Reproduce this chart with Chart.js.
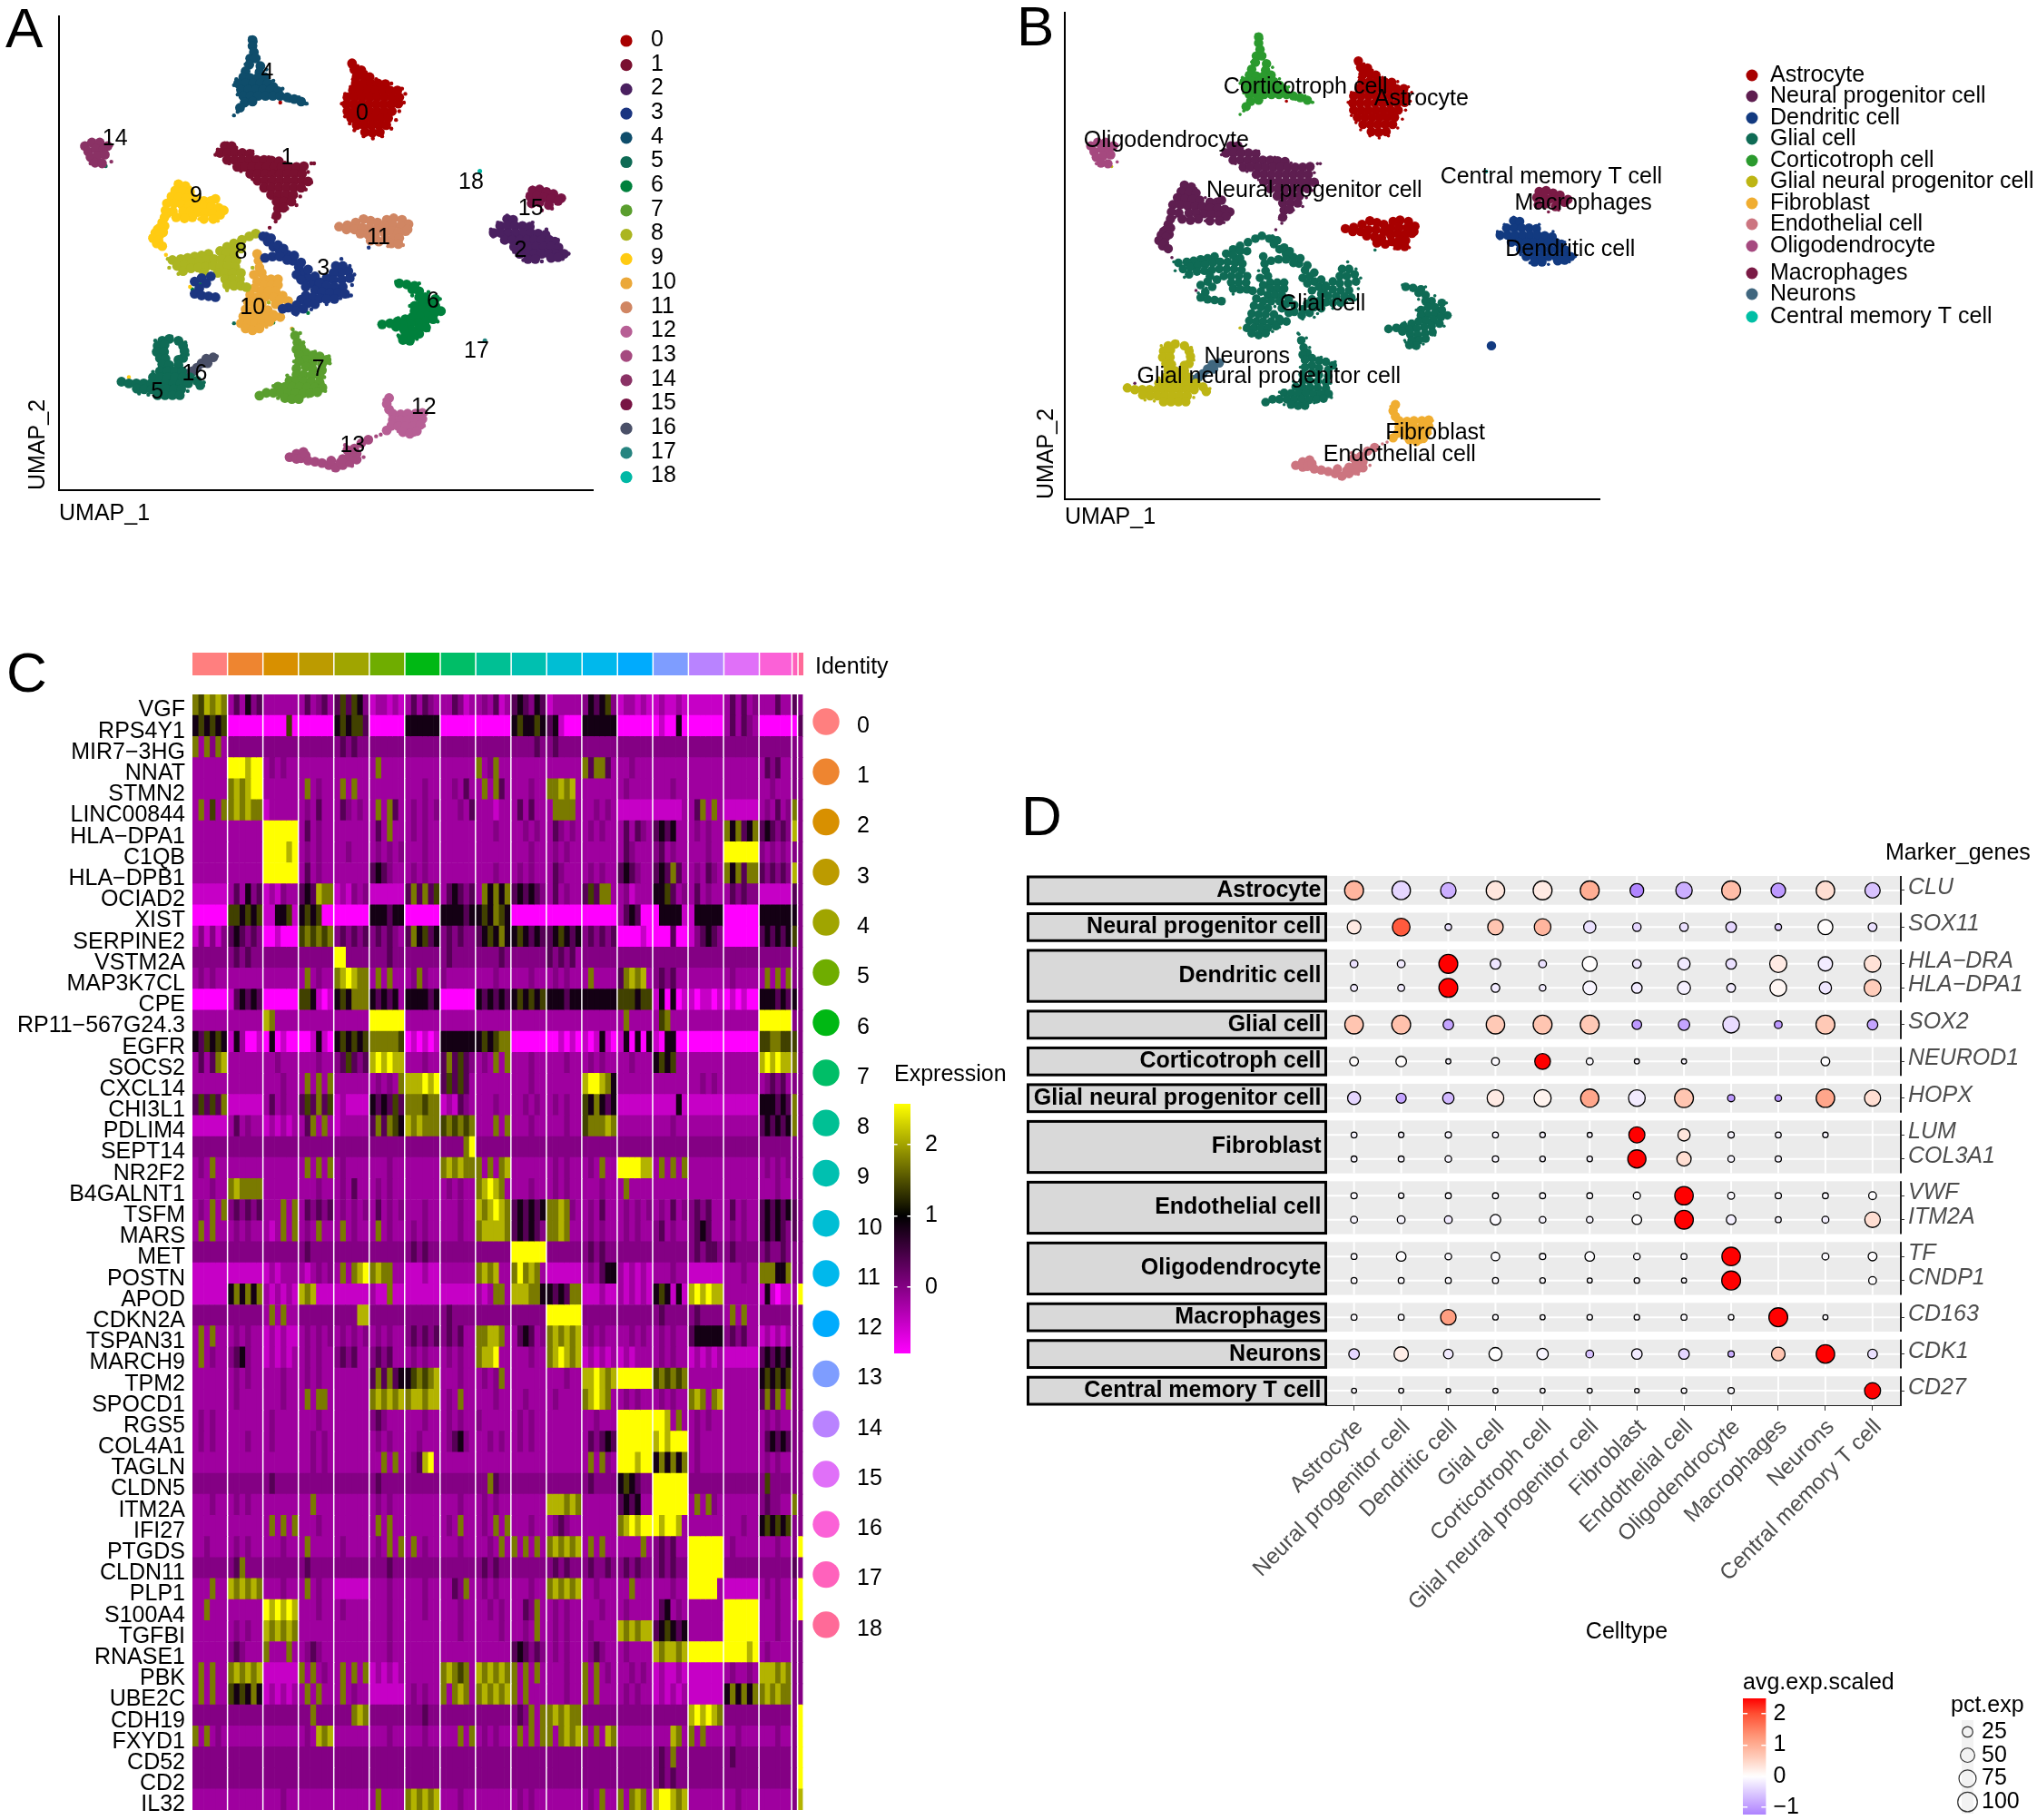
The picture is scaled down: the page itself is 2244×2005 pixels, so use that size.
<!DOCTYPE html>
<html>
<head>
<meta charset="utf-8">
<title>UMAP, heatmap and marker gene dot plot</title>
<script src="https://cdn.jsdelivr.net/npm/chart.js@4"></script>
<style>
body { margin: 0; background: #fff; width: 2244px; height: 2005px; position: relative; overflow: hidden; font-family: "Liberation Sans", Arial, sans-serif; }
canvas { position: absolute; }
.tag { position: absolute; font-size: 62px; line-height: 1; }
</style>
</head>
<body>
<div class="tag" style="left:6px;top:0">A</div>
<div class="tag" style="left:1120px;top:-2px">B</div>
<div class="tag" style="left:7px;top:710px">C</div>
<div class="tag" style="left:1125px;top:868px">D</div>
<canvas id="umapA" width="780" height="600" style="left:0;top:0"></canvas>
<canvas id="umapB" width="1144" height="600" style="left:1100px;top:0"></canvas>
<canvas id="heatmap" width="985" height="1317" style="left:0;top:700px"></canvas>
<canvas id="identity" width="673" height="25" style="left:212px;top:719px"></canvas>
<canvas id="exprBar" width="125" height="352" style="left:985px;top:1170px"></canvas>
<canvas id="dotplot" width="1124" height="930" style="left:1120px;top:920px"></canvas>
<canvas id="avgBar" width="190" height="182" style="left:1920px;top:1840px"></canvas>
<canvas id="pctKey" width="95" height="162" style="left:2149px;top:1860px"></canvas>
<script>
"use strict";

const clusterNames = ['0','1','2','3','4','5','6','7','8','9','10','11','12','13','14','15','16','17','18'];
const clusterColors = ['#A80000','#7A1030','#4A2060','#1B3580','#0F4D6B','#0F6B55','#00803C','#5A9E2E','#ABB521','#FFCB12','#EBA83A','#D08663','#B75F95','#A5497F','#8A3265','#781444','#4A5068','#268480','#00B8A5'];
const cellTypes = ['Astrocyte','Neural progenitor cell','Dendritic cell','Glial cell','Corticotroph cell','Glial neural progenitor cell','Fibroblast','Endothelial cell','Oligodendrocyte','Macrophages','Neurons','Central memory T cell'];
const cellTypeColors = ['#A80000','#5E1E50','#123A80','#0F6B55','#2B9A2E','#BDB514','#F0AD30','#CC7580','#A5497F','#7A1A45','#40677F','#00BFA5'];
// which cell type each cluster was annotated as
const clusterCellType = [0,1,2,3,4,5,3,3,3,1,3,0,6,7,8,9,10,2,11];

// UMAP points per cluster, x,y,x,y... (y read downwards, flipped in toPoints)
const cluster0 = [760,182, 765,200,780,202, 770,220,786,220,798,222, 768,240,784,240,800,240,816,240,832,242, 762,260,778,260,794,260,810,260,826,260,842,260,858,260, 750,280,766,280,782,280,798,280,814,280,830,280,846,280,862,280, 748,300,764,300,780,300,796,300,812,300,828,300,844,300,860,298, 750,320,766,320,782,320,798,320,814,320,830,320,846,320, 758,340,774,340,790,340,806,340,822,340,838,340, 770,360,786,360,802,360,818,360,834,360, 788,380,804,382,820,380];
const cluster1 = [485,420,500,420, 475,440,491,440,507,440,523,440,539,442, 490,460,506,460,522,460,538,460,554,460,570,460,586,462,602,464, 512,480,528,480,544,480,560,480,576,480,592,480,608,480,624,480,640,480,656,478, 540,500,556,500,572,500,588,500,604,500,620,500,636,500,652,500, 556,520,572,520,588,520,604,520,620,520,636,520,652,520,665,522, 570,540,586,540,602,540,618,540,634,540,650,540, 585,560,601,560,617,560,633,560, 597,580,613,580,629,580, 600,600,612,598, 597,620];
const cluster2 = [1095,630,1108,632, 1080,650,1096,650,1112,650,1128,650,1144,652, 1066,670,1082,670,1098,670,1114,670,1130,670,1146,670,1162,672,1178,675, 1090,690,1106,690,1122,690,1138,690,1154,690,1170,690,1186,690,1198,695, 1110,710,1126,710,1142,710,1158,710,1174,710,1190,710,1206,712, 1122,730,1138,730,1154,730,1170,730,1186,730,1202,730,1218,730, 1140,745,1156,745,1190,742,1205,740];
const cluster3 = [568,680,578,695,590,710,604,722,620,732,632,750,645,768,655,785,665,800,675,815,685,830, 585,685,600,705,612,715,635,735,650,755,665,775,680,795,690,812,610,722,640,790,650,805,660,825, 572,742,588,738,604,738,620,748, 725,765,740,765,752,780,735,785,720,785,705,800,720,805,738,805,755,800,690,815,705,822,722,825,740,825,680,835,695,840,712,842,730,842,745,845,660,850,675,855,690,858,705,860,722,860,650,862,665,872,680,875,640,878,655,888,638,895,622,885,610,888, 420,810,435,800,455,795,445,815,430,830,420,845,435,850,450,852,465,855];
const cluster4 = [545,115,545,132,548,150,540,168,552,168,538,186,562,190,530,205,560,208,525,222,540,224,556,224,572,222,514,240,530,240,546,240,562,240,578,240,590,250,520,258,536,258,552,258,568,258,584,258,600,262,525,276,541,276,557,276,573,276,589,276,605,276,620,280,635,285,650,292,528,295,545,292,518,310];
const cluster5 = [350,980,365,975,385,980,340,995,395,995,355,992,338,1012,398,1010,354,1012,345,1030,395,1030,357,1032,385,1035,350,1048,365,1050,385,1050, 345,1068,361,1068,377,1068,393,1068, 330,1085,346,1085,362,1085,378,1085,394,1085,410,1085,425,1095, 262,1098,278,1103,294,1103,310,1103,326,1103,342,1103,358,1103,374,1103,390,1103,406,1103,432,1108, 295,1118,311,1120,327,1120,343,1120,359,1120,375,1120,391,1120, 340,1137,356,1137,372,1137,388,1137];
const cluster6 = [862,815,878,818,895,822,905,838,890,832,918,855,905,855,925,872,910,872,895,880,940,860,940,880,925,890,910,892,895,895,952,895,938,900,922,908,906,910,890,912,875,918,858,925,842,930,825,933,935,918,918,925,902,928,886,932,870,935,855,940,920,942,904,945,888,950,872,948,905,960,890,965,875,965,885,980,870,978];
const cluster7 = [637,965,642,985,650,1000,640,1005,660,1015,645,1020,675,1022,690,1025,705,1035,660,1035,645,1040,675,1042,695,1048,660,1055,640,1060,675,1062,695,1065,640,1078,655,1078,672,1080,690,1082,625,1095,640,1097,656,1097,672,1098,690,1100,600,1112,615,1113,631,1113,647,1113,663,1115,680,1115,696,1115,575,1130,590,1130,606,1130,622,1130,638,1130,654,1132,670,1130,685,1128,560,1138,615,1145,630,1148,645,1148];
const cluster8 = [552,672,538,680,522,690,505,700,490,710,505,715,520,715,475,722,490,727,505,735,450,730,435,735,420,738,405,742,390,745,372,748,382,765,398,760,414,755,430,752,446,748,462,745,478,745,494,748,510,750,395,780,412,772,428,770,444,768,460,765,476,765,492,765,508,768,440,785,470,785,486,785,502,785,520,785,486,803,502,803,518,803,490,820,505,822,520,822,532,826];
const cluster9 = [385,530,400,535,378,548,394,550,410,552,370,565,386,568,402,570,418,572,360,585,376,585,392,588,408,590,424,590,440,578,455,578,465,572,440,595,456,595,472,598,483,605,357,605,373,608,395,608,411,608,427,610,443,612,459,614,475,618,415,625,355,625,380,625,398,628,440,630,460,630,350,640,340,660,355,650,345,655,352,668,335,670,345,675,330,685,342,692,338,700,350,708];
const cluster10 = [555,730,558,750,560,770,565,785,548,790,570,803,585,803,600,803,555,810,570,820,585,820,600,820,550,828,565,838,580,838,595,838,610,850,540,848,555,855,572,855,590,855,605,862,622,866,535,868,550,872,565,875,595,875,530,890,545,892,560,892,578,892,590,905,525,910,540,912,555,912,572,912,590,912,605,912,520,930,535,930,550,930,565,930,582,925,530,945,545,950,560,945];
const cluster11 = [732,652,750,648,768,640,785,630,800,635,815,640,835,632,850,628,868,632,882,645,748,660,765,660,782,655,798,655,815,660,830,650,848,648,865,650,778,672,795,675,810,678,830,670,845,665,860,668,875,665,880,660,800,692,818,695,832,688,848,685,862,685,845,700,860,702];
const cluster12 = [840,1145,835,1162,840,1178,848,1190,865,1192,880,1190,897,1190,912,1188,848,1208,864,1208,880,1208,896,1208,912,1205,845,1225,860,1226,876,1226,892,1226,908,1222,835,1238,870,1243,885,1248,900,1240];
const cluster13 = [625,1315,640,1305,655,1300,640,1320,650,1318,660,1310,665,1325,680,1328,695,1332,710,1338,725,1345,740,1338,755,1330,770,1322,715,1325,735,1330,740,1320,755,1312,770,1305,760,1300,750,1295,765,1290,780,1275,795,1265];
const cluster14 = [183,420,198,410,215,410,232,420,190,436,206,428,222,432,195,452,210,448,226,445,205,468,220,470];
const cluster15 = [1150,548,1165,545,1180,552,1195,558,1212,570,1145,565,1160,562,1175,568,1190,572,1205,578,1148,585,1165,582,1185,590];
const cluster16 = [460,1028,445,1032,435,1045,448,1045,425,1058,405,1075,395,1085,415,1068];
const cluster17 = [1047,980];
const cluster18 = [1036,492];
const clusters = [cluster0,cluster1,cluster2,cluster3,cluster4,cluster5,cluster6,cluster7,cluster8,cluster9,cluster10,cluster11,cluster12,cluster13,cluster14,cluster15,cluster16,cluster17,cluster18];
// thin scatter round the clusters: cluster, x, y
const strayPoints = [[4,505,332],[4,513,322],[4,660,298],[4,625,290],[0,605,295],[1,595,637],[1,590,625],[1,582,655],[3,578,675],[1,672,470],[9,352,715],[9,358,733],[3,400,528],[9,462,570],[3,737,745],[9,738,785],[3,758,850],[6,665,900],[5,580,932],[5,505,930],[10,630,945],[7,648,958],[9,278,1085],[5,438,1110],[7,650,1128],[6,862,970],[11,878,968],[6,862,305],[3,798,700],[3,796,712],[5,228,478],[14,240,465],[13,812,1255],[13,800,1260],[13,822,1250],[12,790,1268],[15,1170,605],[15,1192,600],[2,1060,665],[6,425,825],[6,432,818],[6,415,832],[9,410,825],[5,440,810],[1,600,552],[8,545,770],[8,560,790],[8,580,870],[8,600,880],[4,822,248],[4,828,330],[4,758,345],[12,842,1138],[9,836,1170],[10,540,440],[9,398,986],[5,350,715],[6,590,928]];
// outline scatter per cluster: cluster, then x,y,x,y...
const edgeScatter = [
[0,756,190,772,190,790,208,812,228,845,240,868,255,875,270,872,295,862,320,855,345,845,370,825,392,805,398,785,392,765,375,755,355,745,335,738,298,745,270,757,250,762,228],
[1,470,430,465,445,490,412,510,425,545,435,580,452,615,468,678,470,665,495,672,525,660,545,648,565,640,590,620,600,600,615,585,570,565,535,545,515,520,492,495,470],
[2,1060,660,1075,640,1095,620,1150,640,1180,660,1205,690,1228,730,1215,745,1170,752,1130,748,1110,725,1085,695,1065,680],
[3,560,675,575,672,755,765,765,790,760,820,752,852,735,858,705,875,672,890,640,905],
[4,540,108,552,120,558,165,575,200,590,232,610,255,645,280,662,298,505,245,510,228,530,185,513,272],
[5,258,1098,300,1132,320,1135,405,1125,440,1100,420,1075,330,1070,345,1055,335,980,370,968,400,985,405,1020],
[6,855,810,905,815,925,840,950,860,958,895,945,925,925,950,900,975,880,985,860,965,822,930,860,915,885,880,890,850],
[7,632,948,655,985,680,1012,710,1025,712,1045,700,1085,702,1125,665,1140,630,1153,600,1145,558,1140,590,1110,620,1080,635,1040],
[8,362,745,365,770,385,788,555,670,530,830,490,835,480,800],
[9,380,525,410,540,430,565,465,565,485,600,470,635,430,630,395,625,365,620,325,680],
[10,555,725,625,868,605,910,575,940,515,935],
[11,728,652,780,625,885,640,880,672,870,705,838,708],
[12,830,1150,920,1190,915,1225,895,1250,860,1240,832,1235],
[13,620,1315,655,1295,720,1352,760,1340,785,1315,745,1280,795,1262],
[14,178,425,200,405,240,418,225,475,195,470],
[15,1140,558,1150,540,1215,570,1190,588],
[16,468,1025,390,1090]
];
const clusterLabelPos = [[782,323],[620,452],[1124,716],[698,770],[577,205],[339,1125],[935,864],[687,1058],[520,722],[423,560],[545,882],[817,680],[915,1168],[761,1278],[248,396],[1146,596],[420,1073],[1029,1007],[1017,522]];
const cellTypeLabelPos = [[896,284],[665,543],[1217,706],[683,861],[646,253],[567,1064],[926,1222],[849,1283],[346,403],[1245,578],[520,1008],[1176,505]];

// heatmap
const genes = ['VGF','RPS4Y1','MIR7−3HG','NNAT','STMN2','LINC00844','HLA−DPA1','C1QB','HLA−DPB1','OCIAD2','XIST','SERPINE2','VSTM2A','MAP3K7CL','CPE','RP11−567G24.3','EGFR','SOCS2','CXCL14','CHI3L1','PDLIM4','SEPT14','NR2F2','B4GALNT1','TSFM','MARS','MET','POSTN','APOD','CDKN2A','TSPAN31','MARCH9','TPM2','SPOCD1','RGS5','COL4A1','TAGLN','CLDN5','ITM2A','IFI27','PTGDS','CLDN11','PLP1','S100A4','TGFBI','RNASE1','PBK','UBE2C','CDH19','FXYD1','CD52','CD2','IL32'];
const identityColors = ['#FF7F7F','#EE8530','#D89000','#BC9B00','#A0A500','#6FAD00','#00B814','#00BE67','#00C094','#00C0B0','#00BED4','#00B8EC','#00ABFD','#7E9DFF','#B983FF','#E070F8','#FB61D7','#FF62BC','#FF6A98'];
const exprLevels = [-0.93,-0.5,-0.2,0,0.35,0.85,1.4,1.75,2.1,2.57];
// one line per gene, one block per cluster, each digit an index into exprLevels
const exprRows = [
'768787 242534 222222 242342 464653 122121 242432 224312 232412 454354 122222 354563 122121 121121 111111 242423 222422 4 3',
'565656 000000 000060 000000 565664 000000 555555 000000 000000 565565 451000 555555 000000 010050 000000 242432 000000 0 4',
'727372 333333 333333 333333 343433 333333 333333 333333 333333 333343 343333 333333 333333 333333 333333 333333 333333 3 3',
'222222 999899 232322 222222 222222 272222 222222 222222 723722 222222 222222 747742 223222 222222 222222 222222 243422 3 3',
'222222 787899 222222 272322 272722 222222 222322 223242 272742 222322 778782 222222 232222 222322 222222 222222 223222 3 3',
'272627 787877 122222 232422 243232 272742 232323 222324 222122 242422 277772 223232 111111 111112 247272 111111 232423 7 3',
'222222 222222 999999 242322 222222 242722 232322 222222 222322 223232 243232 232322 242432 454522 232322 757457 454343 8 3',
'222222 222222 999989 232322 223222 232323 222322 222222 222222 222322 232322 222222 243222 342322 222322 999999 323232 3 3',
'222222 222222 999999 242322 222222 454322 232322 222222 222322 232322 243222 232322 454322 454742 232432 757477 434343 8 3',
'111111 242534 121322 454877 121323 111111 474746 245434 275757 454543 242322 464772 231222 556423 242322 243433 111111 4 3',
'000000 665656 115561 565600 000000 555455 000000 555545 565765 000000 000000 000000 245400 055551 155555 000000 555555 5 3',
'131313 454343 001000 676767 343434 343432 475645 343433 456575 565454 456545 343434 000010 000400 134543 000000 454545 6 3',
'333333 343433 333333 333333 993333 333433 333333 343333 333343 333333 434342 333333 333333 333333 333333 333333 333333 3 3',
'232322 222222 222222 272322 789877 272722 237322 322222 222322 222322 232322 272222 478782 343422 222222 232222 272727 3 3',
'000000 145454 000000 665101 565777 545452 555545 000000 545454 565656 555455 555555 666566 150501 101101 010100 555454 5 3',
'222222 222222 872222 222222 222222 999999 222222 222222 222222 222222 222222 222222 272222 267222 222222 222222 999999 3 3',
'546565 152001 050100 001510 565656 777776 010101 555555 565677 000000 001010 101510 150505 105500 000000 000000 667766 6 3',
'242478 222222 223222 222322 346434 898988 222322 474643 232727 222322 222322 232322 223222 565622 222222 222222 898988 7 3',
'222222 222222 222322 272727 222222 232327 888989 464642 222222 222322 222222 899875 222222 222222 223232 222222 234342 3 3',
'464647 111111 242322 464746 121111 545464 777677 121432 222322 223232 232322 657545 111111 111151 111111 111111 555454 7 3',
'111111 242322 121212 247272 122222 474765 878777 676767 222727 222322 222322 677787 222222 222322 222222 222222 454545 7 3',
'333333 333333 333333 333333 333333 333333 333333 333379 333333 333333 333333 333333 333333 333333 333333 333333 333333 3 3',
'232722 222222 222222 272727 232222 222322 222222 787877 727278 222222 232322 232722 999988 272727 222222 222222 232323 3 3',
'222322 787777 222222 222322 232422 232322 222222 232322 789872 222322 232322 222322 272222 222222 222222 222222 222322 3 3',
'232727 343434 222727 243434 232323 242323 222322 222322 878987 454545 778732 232422 232323 232423 343422 242322 454545 4 3',
'272722 232322 212727 232722 272322 272322 232322 222322 788887 454543 778722 232322 232322 342322 345422 232322 454543 4 3',
'333333 333333 333333 343333 333333 333333 343433 333333 333333 999999 333333 343433 333333 333333 343443 343333 343343 3 3',
'111111 111111 121222 212323 272789 787722 111211 222222 787822 797872 111111 232455 212121 222322 111111 222322 777557 3 3',
'111111 575757 212121 878111 111111 211711 111111 111111 212772 888775 545477 111211 212121 565151 898988 222222 151011 2 9',
'333333 333333 272722 333333 333388 333333 333333 343333 333333 333333 999999 333333 333333 343333 343333 272722 333333 3 3',
'272722 232322 121211 232323 232323 232322 343434 343422 778872 245423 787878 232322 223232 232322 455555 343422 121212 3 3',
'272322 345322 121212 232322 343422 343422 232322 232322 788922 222322 789878 121212 121222 232322 121212 111111 454545 3 3',
'222222 232322 222322 232322 222222 474745 567678 222322 232372 222222 222322 889878 999999 676767 222222 222222 565656 3 3',
'222222 232222 222322 272772 222222 787878 788788 232722 222322 223222 232222 789872 232322 232322 787278 222222 474727 3 3',
'232322 222222 232222 222322 222222 343222 222322 232322 322222 232322 222222 223222 999999 998272 232322 222222 232322 3 3',
'232322 222322 232222 223232 222222 232322 223222 234532 223232 232322 222222 243454 999999 898999 232222 222222 245454 3 3',
'222222 222222 222222 223232 222222 227272 234892 222222 222222 222222 222222 272732 999899 575757 232222 222222 232322 3 3',
'333333 333333 343333 333333 333333 343333 333333 333333 337433 333333 333333 343333 565433 999999 333333 333333 363333 3 3',
'222322 232322 222222 227222 222222 232322 222222 222322 232322 222222 888787 222222 454522 999999 272732 222222 343322 7 3',
'222222 222222 272727 222322 222222 272722 222222 232722 232727 222322 234322 222222 789899 989982 222222 222322 565656 3 3',
'223222 232322 222322 272222 232222 232727 272322 222322 223272 727272 787878 272722 222272 343422 999999 232222 222322 3 9',
'333333 347333 333333 343333 333333 333433 333333 333333 343433 333333 343433 343343 343433 343433 999999 333333 333333 4 3',
'222722 878787 222322 272322 111111 222322 222322 224372 232322 222322 787878 223222 227222 222322 999992 111111 232322 3 9',
'227222 222222 989898 222322 232222 222322 222322 222322 223232 224372 232322 222322 232222 245232 222222 999999 222322 2 9',
'222222 232322 878787 222222 222222 222322 222222 222322 222232 223272 232322 232222 878788 456545 222222 999999 222322 3 3',
'222222 343222 722272 234322 222222 222322 222222 222222 222222 454343 232322 234322 232222 878878 999999 999989 232222 3 3',
'272722 787878 111111 727232 272727 121212 222222 787672 878787 727272 222322 727232 223232 121121 111111 232232 888787 3 3',
'272722 656575 121212 272722 272322 111111 232322 727872 787878 727222 222322 727222 232322 121212 111111 575757 787877 3 3',
'333333 333333 333333 337333 333787 333333 333433 333333 333333 343727 787877 333333 333333 333333 898987 333333 333333 3 9',
'727232 222222 222222 232878 222222 222322 222322 222727 232322 272727 727878 727287 222222 222872 727222 223222 222322 3 9',
'333333 333333 333333 333333 333333 333333 333333 333333 333333 333333 333333 333333 333333 343733 333333 343333 333333 3 9',
'333333 333333 333333 333333 333333 333333 333333 333333 333333 333333 333333 333333 333333 343433 333333 333333 333333 3 9',
'222222 222222 222322 222222 222222 272222 787878 222322 222222 232322 222222 232722 727872 899878 222222 223222 222222 3 8'
];
const cellWidths = [6.25,6.25,6.25,6.25,6.25,6.25,6.25,6.25,6.25,6.25,6.25,6.25,6.25,6.25,6.25,6.25,5.75,5,5.5];
const exprTicks = [0,1,2];
const exprRange = [-0.93,2.57];

// dot plot: facets, their marker genes, then pct.exp and avg.exp.scaled per gene and cell type
const markerGenes = [['CLU'],['SOX11'],['HLA−DRA','HLA−DPA1'],['SOX2'],['NEUROD1'],['HOPX'],['LUM','COL3A1'],['VWF','ITM2A'],['TF','CNDP1'],['CD163'],['CDK1'],['CD27']];
const pctExp = [
[92,88,60,88,92,92,45,68,92,52,88,58],
[45,80,8,60,70,35,15,15,25,8,55,16],
[12,12,92,25,12,55,16,35,25,75,50,70],
[9,9,92,16,8,45,25,40,16,70,35,72],
[88,92,25,88,92,92,20,30,70,12,92,25],
[16,25,4,12,62,9,4,4,null,null,16,null],
[40,22,30,70,75,85,70,92,10,8,88,65],
[6,5,7,6,5,4,65,35,7,6,5,null],
[6,6,8,7,5,5,85,50,8,7,null,null],
[7,5,6,6,6,6,10,88,9,7,6,12],
[9,12,12,25,8,8,20,90,20,6,9,60],
[6,20,8,15,7,20,8,6,88,null,9,16],
[6,6,6,6,5,4,5,4,92,null,null,12],
[6,6,60,5,4,5,5,6,5,92,4,null],
[25,50,20,40,30,12,25,25,7,45,88,20],
[4,4,3,4,4,4,3,5,7,null,null,65]
];
const avgExp = [
[0.9,-0.4,-0.8,0.3,0.25,1.0,-1.2,-0.8,0.8,-1.0,0.4,-0.6],
[0.25,1.9,-0.3,0.7,0.9,-0.3,-0.4,-0.3,-0.4,-0.5,0.02,-0.3],
[-0.3,-0.2,2.5,-0.25,-0.3,0.02,-0.25,-0.2,-0.3,0.25,-0.2,0.35],
[-0.2,-0.2,2.5,-0.2,-0.2,-0.1,-0.2,-0.15,-0.2,0.1,-0.25,0.6],
[0.7,0.75,-0.9,0.65,0.7,0.65,-1,-0.9,-0.35,-1,0.65,-0.9],
[0.02,0.02,-0.1,-0.05,2.5,-0.05,-0.1,-0.1,null,null,-0.02,null],
[-0.4,-0.9,-0.7,0.25,0.15,1.1,-0.2,0.7,-1,-1,1.1,0.4],
[-0.1,-0.1,-0.1,-0.1,-0.1,-0.1,2.5,0.3,-0.1,-0.1,-0.1,null],
[-0.1,-0.1,-0.1,-0.1,-0.1,-0.1,2.5,0.4,-0.1,-0.1,null,null],
[-0.05,-0.05,-0.05,-0.05,-0.05,-0.05,-0.02,2.5,-0.05,-0.05,-0.05,-0.02],
[-0.1,-0.1,-0.2,-0.05,-0.1,-0.1,-0.02,2.5,-0.15,-0.1,-0.15,0.4],
[-0.05,-0.02,-0.05,-0.02,-0.05,-0.02,-0.05,-0.05,2.5,null,-0.05,-0.02],
[-0.05,-0.05,-0.05,-0.05,-0.05,-0.05,-0.05,-0.05,2.5,null,null,-0.02],
[-0.05,-0.05,1.2,-0.05,-0.05,-0.05,-0.05,-0.05,-0.05,2.5,-0.05,null],
[-0.4,0.2,-0.2,0,-0.1,-0.6,-0.2,-0.4,-0.8,0.7,2.5,-0.3],
[-0.05,-0.05,-0.05,-0.05,-0.05,-0.05,-0.05,-0.05,-0.05,null,null,2.5]
];
const avgTicks = [-1,0,1,2];
const avgRange = [-1.23,2.5];
const pctLevels = [25,50,75,100];

const exprStops = [[-0.93,[255,0,255]],[1,[0,0,0]],[2.57,[255,255,0]]];
const avgStops = [[-1.25,[173,128,255]],[0,[255,255,255]],[0.6,[255,205,187]],[1.25,[255,154,124]],[2,[255,80,51]],[2.5,[255,0,0]]];

const FONT = '"Liberation Sans", Arial, sans-serif';
const TEXT_SIZE = 25;
const UMAP_FLIP = 1457;
Chart.defaults.font.family = FONT;
Chart.defaults.color = '#000';
Chart.defaults.animation = false;
Chart.defaults.responsive = false;
Chart.defaults.devicePixelRatio = 1;
Chart.defaults.plugins.legend.display = false;
Chart.defaults.plugins.tooltip.enabled = false;

function toPoints(flat) {
    const pts = [];
    for (let i = 0; i + 1 < flat.length; i += 2) pts.push({ x: flat[i], y: UMAP_FLIP - flat[i + 1] });
    return pts;
}

function rampColor(stops, v) {
    if (v <= stops[0][0]) return 'rgb(' + stops[0][1] + ')';
    for (let i = 1; i < stops.length; i++) {
        if (v <= stops[i][0]) {
            const t = (v - stops[i - 1][0]) / (stops[i][0] - stops[i - 1][0]);
            const rgb = stops[i][1].map((c, k) => Math.round(stops[i - 1][1][k] + (c - stops[i - 1][1][k]) * t));
            return 'rgb(' + rgb + ')';
        }
    }
    return 'rgb(' + stops[stops.length - 1][1] + ')';
}

function rampGradient(stops, range) {
    return function (ctx) {
        const area = ctx.chart.chartArea;
        if (!area) return 'transparent';
        const g = ctx.chart.ctx.createLinearGradient(0, area.bottom, 0, area.top);
        const span = range[1] - range[0];
        for (let i = 0; i <= 40; i++) {
            g.addColorStop(i / 40, rampColor(stops, range[0] + span * i / 40));
        }
        return g;
    };
}

// fixed strings on a chart's canvas
function captions(items) {
    return {
        id: 'captions',
        afterDraw(chart) {
            const c = chart.ctx;
            c.save();
            c.fillStyle = '#000';
            c.textBaseline = 'middle';
            items.forEach(it => {
                c.font = TEXT_SIZE + 'px ' + FONT;
                c.textAlign = it.align || 'left';
                c.fillText(it.text, it.x, it.y);
            });
            c.restore();
        }
    };
}

function dotLegend(names, colors, o) {
    return {
        id: 'dotLegend',
        afterDraw(chart) {
            const c = chart.ctx;
            c.save();
            c.textBaseline = 'middle';
            c.font = TEXT_SIZE + 'px ' + FONT;
            names.forEach((name, i) => {
                const y = o.rowY(i);
                c.fillStyle = colors[i];
                c.beginPath();
                c.arc(o.dotX, y, o.r, 0, Math.PI * 2);
                c.fill();
                c.fillStyle = '#000';
                c.fillText(name, o.textX, y + o.dy);
            });
            c.restore();
        }
    };
}

function dataLabels(names, positions) {
    return {
        id: 'dataLabels',
        afterDatasetsDraw(chart) {
            const c = chart.ctx;
            c.save();
            c.fillStyle = '#000';
            c.font = TEXT_SIZE + 'px ' + FONT;
            c.textAlign = 'center';
            c.textBaseline = 'middle';
            names.forEach((name, i) => {
                c.fillText(name, chart.scales.x.getPixelForValue(positions[i][0]), chart.scales.y.getPixelForValue(UMAP_FLIP - positions[i][1]) + 1.5);
            });
            c.restore();
        }
    };
}

function umapScales(yWidth, xHeight, xPad, yPad) {
    return {
        x: {
            min: 127, max: 1280,
            grid: { display: false },
            ticks: { display: false },
            border: { color: '#000', width: 2 },
            title: { display: true, text: 'UMAP_1', align: 'start', font: { size: TEXT_SIZE }, padding: { top: 0, bottom: xPad } },
            afterFit(s) { s.height = xHeight; }
        },
        y: {
            min: 47, max: 1410,
            grid: { display: false },
            ticks: { display: false },
            border: { color: '#000', width: 2 },
            title: { display: true, text: 'UMAP_2', align: 'start', font: { size: TEXT_SIZE }, padding: { top: yPad, bottom: 0 } },
            afterFit(s) { s.width = yWidth; }
        }
    };
}

function strayDataset(colorOf, radius) {
    const pts = strayPoints.map(p => p.slice());
    edgeScatter.forEach(e => {
        for (let i = 1; i + 1 < e.length; i += 2) pts.push([e[0], e[i], e[i + 1]]);
    });
    return {
        label: 'scatter',
        data: pts.map(p => ({ x: p[1], y: UMAP_FLIP - p[2] })),
        backgroundColor: pts.map(p => colorOf(p[0])),
        pointRadius: radius,
        pointBorderWidth: 0
    };
}

// panel A
new Chart(document.getElementById('umapA'), {
    type: 'scatter',
    data: {
        datasets: clusterNames.map((name, i) => ({
            label: name,
            data: toPoints(clusters[i]),
            backgroundColor: clusterColors[i],
            pointRadius: i > 16 ? 2.5 : 5.4,
            pointBorderWidth: 0
        })).concat([strayDataset(i => clusterColors[i], 2.2)])
    },
    options: {
        layout: { padding: { top: 18, right: 127 } },
        scales: umapScales(65, 60, 19, 27)
    },
    plugins: [
        dataLabels(clusterNames, clusterLabelPos),
        dotLegend(clusterNames, clusterColors, { dotX: 690, textX: 717, r: 6.6, dy: -1, rowY: i => 45 + i * 26.7 })
    ]
});

// panel B: the same cells, coloured by annotated cell type
const legendRowsB = [83,106,130,153,177,200,224,247,271,301,324,349];
const lacyTypes = [3];
new Chart(document.getElementById('umapB'), {
    type: 'scatter',
    data: {
        datasets: cellTypes.map((name, t) => ({
            label: name,
            data: clusters.filter((_, i) => clusterCellType[i] === t).flatMap(toPoints),
            backgroundColor: cellTypeColors[t],
            pointRadius: t === 11 ? 2 : (lacyTypes.includes(t) ? 4.8 : 5.2),
            pointBorderWidth: 0
        })).concat([strayDataset(i => cellTypeColors[clusterCellType[i]], 1.8)])
    },
    options: {
        layout: { padding: { top: 14, right: 482 } },
        scales: umapScales(73, 50, 15, 38)
    },
    plugins: [
        dataLabels(cellTypes, cellTypeLabelPos),
        dotLegend(cellTypes, cellTypeColors, { dotX: 830, textX: 850, r: 6.5, dy: 0, rowY: i => legendRowsB[i] })
    ]
});

// panel C heatmap, stacked so each block of cells keeps its cluster width
const CLUSTER_GAP = 1.5;
const heatCells = exprRows.map(r => r.split(' '));
const heatDatasets = [];
cellWidths.forEach((w, c) => {
    for (let j = 0; j < heatCells[0][c].length; j++) {
        heatDatasets.push({
            data: genes.map(() => w),
            backgroundColor: heatCells.map(r => rampColor(exprStops, exprLevels[+r[c][j]])),
            borderWidth: 0
        });
    }
    if (c < cellWidths.length - 1) {
        heatDatasets.push({ data: genes.map(() => CLUSTER_GAP), backgroundColor: '#fff', borderWidth: 0 });
    }
});
const heatWidth = cellWidths.reduce((sum, w, c) => sum + w * heatCells[0][c].length, 0) + CLUSTER_GAP * (cellWidths.length - 1);

new Chart(document.getElementById('heatmap'), {
    type: 'bar',
    data: { labels: genes, datasets: heatDatasets },
    options: {
        indexAxis: 'y',
        layout: { padding: { top: 65, bottom: 10, right: 100.5 } },
        datasets: { bar: { barPercentage: 1, categoryPercentage: 1 } },
        scales: {
            x: { display: false, stacked: true, min: 0, max: heatWidth },
            y: {
                stacked: true,
                grid: { display: false, drawTicks: false },
                border: { display: false },
                ticks: { autoSkip: false, font: { size: TEXT_SIZE }, padding: 8, labelOffset: 6 },
                afterFit(s) { s.width = 212; }
            }
        }
    },
    plugins: [
        captions([{ text: 'Identity', x: 898, y: 35 }]),
        dotLegend(clusterNames, identityColors, { dotX: 910, textX: 944, r: 14.7, dy: 5, rowY: i => 95 + i * 55.27 })
    ]
});

// identity strip above the heatmap
new Chart(document.getElementById('identity'), {
    type: 'bar',
    data: {
        labels: ['Identity'],
        datasets: clusterNames.flatMap((name, c) => {
            const block = { label: name, data: [cellWidths[c] * heatCells[0][c].length], backgroundColor: identityColors[c], borderWidth: 0 };
            return c < clusterNames.length - 1 ? [block, { data: [CLUSTER_GAP], backgroundColor: '#fff', borderWidth: 0 }] : [block];
        })
    },
    options: {
        indexAxis: 'y',
        datasets: { bar: { barPercentage: 1, categoryPercentage: 1 } },
        scales: {
            x: { display: false, stacked: true, min: 0, max: heatWidth },
            y: { display: false, stacked: true }
        }
    }
});

function colorBar(id, stops, range, tickValues, barWidth, padding, labelGap, caption) {
    new Chart(document.getElementById(id), {
        type: 'bar',
        data: {
            labels: ['scale'],
            datasets: [{ data: [range], backgroundColor: rampGradient(stops, range), borderWidth: 0 }]
        },
        options: {
            layout: { padding },
            datasets: { bar: { barPercentage: 1, categoryPercentage: 1 } },
            scales: {
                x: { display: false },
                y: {
                    position: 'right',
                    min: range[0], max: range[1],
                    afterBuildTicks(s) { s.ticks = tickValues.map(v => ({ value: v })); },
                    grid: { z: 1, color: '#fff', lineWidth: 1.5, drawTicks: false },
                    border: { display: false, dash: [barWidth / 5, barWidth * 3 / 5, barWidth / 5] },
                    ticks: { font: { size: TEXT_SIZE }, padding: labelGap, callback: v => String(v).replace('-', '−') },
                    afterFit(s) { s.width = document.getElementById(id).width - barWidth; }
                }
            }
        },
        plugins: [captions([caption])]
    });
}

colorBar('exprBar', exprStops, exprRange, exprTicks, 18, { top: 46, bottom: 19 }, 16, { text: 'Expression', x: 0, y: 14 });
colorBar('avgBar', avgStops, avgRange, avgTicks, 25.5, { top: 31, bottom: 0 }, 8, { text: 'avg.exp.scaled', x: 0, y: 14 });

// panel D dot plot, facet rows are laid out in gene-row units
const FACET_PAD = 0.6;
const FACET_GAP = 0.33;
const facetBands = [];
const geneRows = [];
let rowCursor = 0;
markerGenes.forEach((list, f) => {
    const start = rowCursor;
    list.forEach((_, k) => geneRows.push(start + FACET_PAD + k));
    rowCursor = start + FACET_PAD * 2 + list.length - 1;
    facetBands.push({ name: cellTypes[f], start: start, end: rowCursor });
    rowCursor += FACET_GAP;
});
const rowTotal = rowCursor - FACET_GAP;
const geneNames = markerGenes.flat();

const dotPoints = [];
const dotColors = [];
pctExp.forEach((row, g) => {
    row.forEach((pct, t) => {
        if (pct === null) return;
        dotPoints.push({ x: t, y: geneRows[g], r: Math.sqrt(pct) + 0.8 });
        dotColors.push(rampColor(avgStops, avgExp[g][t]));
    });
});

const facetPanels = {
    id: 'facetPanels',
    beforeDatasetsDraw(chart) {
        const c = chart.ctx;
        const { x, y } = chart.scales;
        const left = chart.chartArea.left;
        const right = chart.chartArea.right;
        c.save();
        facetBands.forEach(band => {
            const top = y.getPixelForValue(band.start);
            const bottom = y.getPixelForValue(band.end);
            c.fillStyle = '#EBEBEB';
            c.fillRect(left, top, right - left, bottom - top);
            c.strokeStyle = '#fff';
            c.lineWidth = 2;
            c.beginPath();
            cellTypes.forEach((_, t) => {
                c.moveTo(x.getPixelForValue(t), top);
                c.lineTo(x.getPixelForValue(t), bottom);
            });
            geneRows.filter(r => r > band.start && r < band.end).forEach(r => {
                c.moveTo(left, y.getPixelForValue(r));
                c.lineTo(right, y.getPixelForValue(r));
            });
            c.stroke();
            // axis piece on the right of the facet
            c.strokeStyle = '#222';
            c.beginPath();
            c.moveTo(right, top);
            c.lineTo(right, bottom);
            c.stroke();
            // strip box with the facet name
            c.fillStyle = '#D9D9D9';
            c.fillRect(12.5, top + 1, left - 12.5, bottom - top - 2);
            c.strokeStyle = '#000';
            c.lineWidth = 3;
            c.strokeRect(12.5, top + 1, left - 12.5, bottom - top - 2);
            c.fillStyle = '#000';
            c.font = 'bold ' + TEXT_SIZE + 'px ' + FONT;
            c.textAlign = 'right';
            c.textBaseline = 'middle';
            c.fillText(band.name, left - 5, (top + bottom) / 2);
        });
        c.restore();
    }
};

new Chart(document.getElementById('dotplot'), {
    type: 'bubble',
    data: {
        datasets: [{
            label: 'Marker genes',
            data: dotPoints,
            backgroundColor: dotColors,
            borderColor: '#000',
            borderWidth: 1.3
        }]
    },
    options: {
        layout: { padding: { left: 340.5, top: 45 } },
        scales: {
            x: {
                min: -0.6, max: 11.6,
                afterBuildTicks(s) { s.ticks = cellTypes.map((_, i) => ({ value: i })); },
                grid: { drawOnChartArea: false, tickLength: 6, tickColor: '#333' },
                border: { color: '#222', width: 2 },
                ticks: {
                    autoSkip: false, minRotation: 45, maxRotation: 45, padding: 4, labelOffset: 6,
                    font: { size: 24.5 }, color: '#4D4D4D',
                    callback: v => cellTypes[v]
                },
                afterFit(s) { s.height = 302; }
            },
            y: {
                position: 'right',
                reverse: true,
                min: 0, max: rowTotal,
                afterBuildTicks(s) { s.ticks = geneRows.map(v => ({ value: v })); },
                grid: { drawOnChartArea: false, tickLength: 4, tickColor: '#333' },
                border: { display: false },
                ticks: {
                    autoSkip: false, padding: 4, labelOffset: -3,
                    font: { size: TEXT_SIZE, style: 'italic' }, color: '#4D4D4D',
                    callback: (v, i) => geneNames[i]
                },
                afterFit(s) { s.width = 150; }
            }
        }
    },
    plugins: [
        facetPanels,
        captions([
            { text: 'Marker_genes', x: 957, y: 20 },
            { text: 'Celltype', x: 672, y: 878, align: 'center' }
        ])
    ]
});

// pct.exp size key
const keyBackground = {
    id: 'keyBackground',
    beforeDatasetsDraw(chart) {
        const a = chart.chartArea;
        chart.ctx.fillStyle = '#F2F2F2';
        chart.ctx.fillRect(a.left, a.top, a.right - a.left, a.bottom - a.top);
    }
};

new Chart(document.getElementById('pctKey'), {
    type: 'bubble',
    data: {
        labels: pctLevels.map(String),
        datasets: [{
            label: 'pct.exp',
            clip: false,
            data: pctLevels.map(p => ({ x: 0, y: String(p), r: Math.sqrt(p) + 0.8 })),
            backgroundColor: 'rgba(0,0,0,0)',
            borderColor: '#333',
            borderWidth: 1.2
        }]
    },
    options: {
        layout: { padding: { top: 35, bottom: 0 } },
        scales: {
            x: { display: false, min: -1, max: 1 },
            y: {
                type: 'category',
                position: 'right',
                offset: true,
                grid: { display: false, drawTicks: false },
                border: { display: false },
                ticks: { autoSkip: false, font: { size: TEXT_SIZE }, padding: 9 },
                afterFit(s) { s.width = 70; }
            }
        }
    },
    plugins: [keyBackground, captions([{ text: 'pct.exp', x: 0, y: 19 }])]
});
</script>
</body>
</html>
